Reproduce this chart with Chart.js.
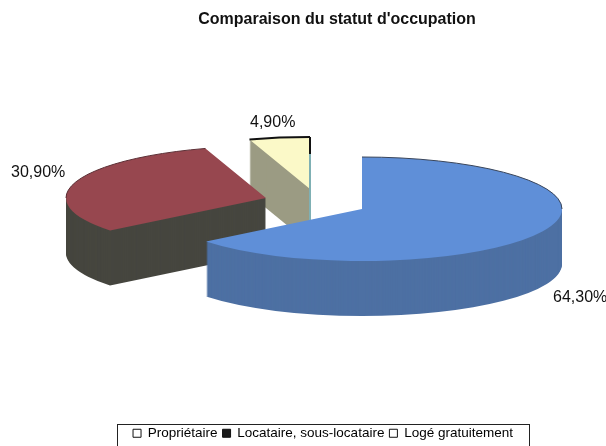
<!DOCTYPE html>
<html>
<head>
<meta charset="utf-8">
<title>Comparaison du statut d'occupation</title>
<script src="https://cdn.jsdelivr.net/npm/chart.js@4/dist/chart.umd.min.js"></script>
<style>
  html, body { margin: 0; padding: 0; background: #fff; }
  canvas { display: block; }
</style>
</head>
<body>
<canvas id="occupationPie" width="606" height="446"></canvas>
<script>
const categories = ['Propriétaire', 'Locataire, sous-locataire', 'Logé gratuitement'];
const shares = [64.3, 30.9, 4.9];

const topColors = ['#5f8fd8', '#97474f', '#fbf9c8'];
const sideColors = ['#4d70a3', '#46463f', '#9b9b83'];
const legendFills = ['#ffffff', '#1a1a1a', '#ffffff'];

// where each exploded slice has its apex on the page
const apex = [{ x: 362, y: 209 }, { x: 266, y: 198 }, { x: 310, y: 189 }];
const labelSpots = [{ x: 553, y: 298 }, { x: 11, y: 173 }, { x: 250, y: 123 }];

const squash = 0.26;
const depth = 55;

function slicePath(ctx, arc) {
    ctx.beginPath();
    ctx.moveTo(arc.x, arc.y);
    ctx.arc(arc.x, arc.y, arc.outerRadius, arc.startAngle, arc.endAngle);
    ctx.closePath();
}

function placeSlice(ctx, arc, i, dy) {
    ctx.translate(apex[i].x, apex[i].y + dy);
    ctx.scale(1, squash);
    ctx.translate(-arc.x, -arc.y);
}

const pie3dPlugin = {
    id: 'pie3d',
    afterLayout(chart) {
        // title and legend are not centred on the page in the original
        chart.titleBlock.left += 68;
        chart.legend.left += 20;
        chart.legend.right += 20;
        chart.legend.top += 4;
        chart.legend.bottom += 4;
    },
    beforeDatasetsDraw(chart) {
        const ctx = chart.ctx;
        const arcs = chart.getDatasetMeta(0).data;

        [2, 1, 0].forEach(i => {
            const arc = arcs[i];
            ctx.fillStyle = sideColors[i];
            for (let dy = depth; dy > 0; dy--) {
                ctx.save();
                placeSlice(ctx, arc, i, dy);
                slicePath(ctx, arc);
                ctx.fill();
                ctx.restore();
            }
            ctx.save();
            placeSlice(ctx, arc, i, 0);
            arc.draw(ctx);
            // dark rim along the back of the slice
            ctx.beginPath();
            if (i === 0) {
                ctx.arc(arc.x, arc.y, arc.outerRadius, arc.startAngle, 0);
            } else if (i === 1) {
                ctx.arc(arc.x, arc.y, arc.outerRadius, Math.PI, arc.endAngle);
            } else {
                ctx.arc(arc.x, arc.y, arc.outerRadius, arc.startAngle, arc.endAngle);
            }
            ctx.restore();
            ctx.strokeStyle = ['#39455a', '#5c3036', '#111'][i];
            ctx.lineWidth = i === 2 ? 2 : 1;
            ctx.stroke();

            if (i === 2) {
                // right edge of the small slice: black at the top, teal below
                const top = apex[i].y - arc.outerRadius * squash;
                ctx.strokeStyle = '#111';
                ctx.beginPath();
                ctx.moveTo(apex[i].x, top);
                ctx.lineTo(apex[i].x, top + 17);
                ctx.stroke();
                ctx.strokeStyle = '#7fb0b4';
                ctx.beginPath();
                ctx.moveTo(apex[i].x, top + 17);
                ctx.lineTo(apex[i].x, apex[i].y + depth);
                ctx.stroke();
            }
        });
        return false;
    },
    afterDraw(chart) {
        const ctx = chart.ctx;

        // percent labels
        ctx.save();
        ctx.font = '16px "Liberation Sans", Arial, sans-serif';
        ctx.fillStyle = '#111';
        ctx.textBaseline = 'middle';
        shares.forEach((v, i) => {
            ctx.fillText(v.toFixed(2).replace('.', ',') + '%', labelSpots[i].x, labelSpots[i].y);
        });
        ctx.restore();

        // legend frame, its bottom edge is cut off by the page
        ctx.save();
        ctx.strokeStyle = '#222';
        ctx.lineWidth = 1;
        ctx.strokeRect(117.5, 424.5, 412, 40);
        ctx.restore();
    }
};

new Chart(document.getElementById('occupationPie'), {
    type: 'pie',
    data: {
        labels: categories,
        datasets: [{
            data: shares,
            backgroundColor: topColors,
            borderWidth: 0
        }]
    },
    options: {
        responsive: false,
        animation: false,
        radius: 200,
        events: [],
        plugins: {
            title: {
                display: true,
                text: "Comparaison du statut d'occupation",
                color: '#111',
                font: { family: '"Liberation Sans", Arial, sans-serif', size: 16, weight: 'bold' },
                padding: { top: 10, bottom: 10 }
            },
            legend: {
                position: 'bottom',
                labels: {
                    color: '#111',
                    boxWidth: 8,
                    boxHeight: 8,
                    padding: 5,
                    font: { family: '"Liberation Sans", Arial, sans-serif', size: 13.5 },
                    generateLabels: () => categories.map((text, i) => ({
                        text,
                        fillStyle: legendFills[i],
                        strokeStyle: '#111',
                        lineWidth: 1,
                        hidden: false,
                        index: i
                    }))
                }
            },
            tooltip: { enabled: false }
        }
    },
    plugins: [pie3dPlugin]
});
</script>
</body>
</html>
